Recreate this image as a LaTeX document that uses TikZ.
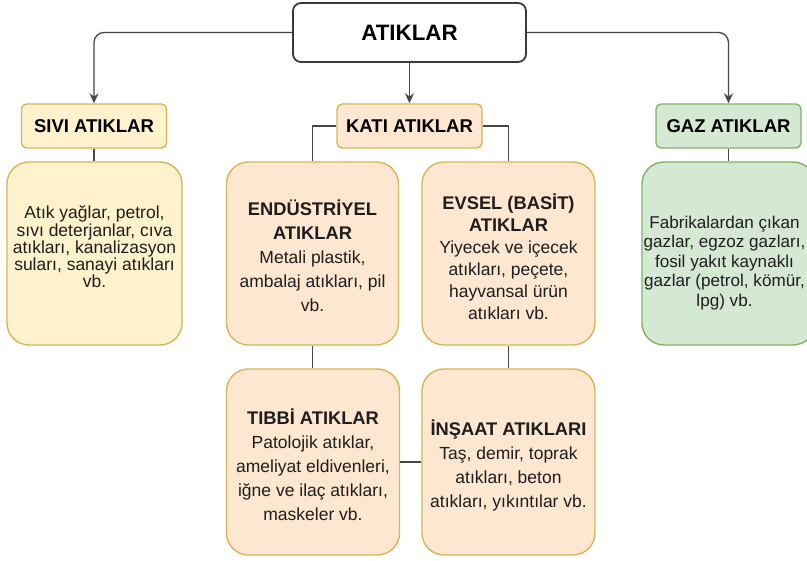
\documentclass[tikz,border=0pt]{standalone}
\usepackage{fontspec}
\setmainfont{Liberation Sans}
\usetikzlibrary{arrows.meta}
\definecolor{ylfill}{HTML}{FFF2CC}
\definecolor{ylline}{HTML}{D6B656}
\definecolor{orfill}{HTML}{FDE7D0}
\definecolor{grfill}{HTML}{D5E8D4}
\definecolor{grline}{HTML}{82B366}
\definecolor{conn}{HTML}{474747}
\definecolor{rootline}{HTML}{3A3A3A}
\definecolor{txt}{HTML}{1E1E1E}
\begin{document}
\begin{tikzpicture}[x=1pt,y=-1pt,
  box/.style={rectangle, inner sep=0pt, line width=1.4pt},
  head/.style={box, rounded corners=5pt, minimum width=145pt, minimum height=44pt,
    font=\bfseries\fontsize{18.5}{20}\selectfont, text=black},
  bigbox/.style={box, rounded corners=22pt, minimum width=173pt},
  body/.style={align=center, text=txt, inner sep=0pt},
  link/.style={draw=conn, line width=1.3pt},
  arr/.style={link, -{Stealth[length=10pt,width=9pt]}, rounded corners=10pt}]
\clip (0,0) rectangle (807,561);
\useasboundingbox (0,0) rectangle (807,561);
\fill[white] (0,0) rectangle (807,561);

% top level
\node[box, draw=rootline, line width=1.8pt, rounded corners=8pt, minimum width=233pt,
  minimum height=59pt, fill=white, font=\bfseries\fontsize{22.3}{24}\selectfont] (root) at (409.5,32.5) {ATIKLAR};
\node[head, fill=ylfill, draw=ylline] (sivi) at (94,126) {SIVI ATIKLAR};
\node[head, fill=orfill, draw=ylline] (kati) at (409.5,126) {KATI ATIKLAR};
\node[head, fill=grfill, draw=grline] (gaz) at (728.5,126) {GAZ ATIKLAR};

% big boxes
\node[bigbox, fill=ylfill, draw=ylline, minimum width=175pt, minimum height=183pt] (sivibox) at (94.5,253.5) {};
\node[bigbox, fill=orfill, draw=ylline, minimum width=172pt, minimum height=183pt] (endbox) at (312.5,253.5) {};
\node[bigbox, fill=orfill, draw=ylline, minimum width=173pt, minimum height=183pt] (evsbox) at (508.5,253.5) {};
\node[bigbox, fill=grfill, draw=grline, minimum width=173pt, minimum height=183pt] (gazbox) at (728.5,253.5) {};
\node[bigbox, fill=orfill, draw=ylline, minimum width=173pt, minimum height=186pt] (tibbox) at (313,462) {};
\node[bigbox, fill=orfill, draw=ylline, minimum width=173pt, minimum height=186pt] (insbox) at (508.5,462) {};

% texts
\node[body, font=\fontsize{17.5}{15.5}\selectfont] (sivitxt) at (94.5,247)
  {Atık yağlar, petrol,\\ sıvı deterjanlar, cıva\\ atıkları, kanalizasyon\\ suları, sanayi atıkları\\ vb.};
\node[body, font=\fontsize{17.5}{24}\selectfont] (endtxt) at (312.5,256)
  {{\fontsize{18.3}{24}\selectfont\bfseries ENDÜSTRİYEL}\\ {\fontsize{18.3}{24}\selectfont\bfseries ATIKLAR}\\ Metali plastik,\\ ambalaj atıkları, pil\\ vb.};
\node[body, font=\fontsize{17.5}{22}\selectfont] (evstxt) at (508.5,257)
  {{\fontsize{18.3}{22}\selectfont\bfseries EVSEL (BASİT)}\\ {\fontsize{18.3}{22}\selectfont\bfseries ATIKLAR}\\ Yiyecek ve içecek\\ atıkları, peçete,\\ hayvansal ürün\\ atıkları vb.};
\node[body, font=\fontsize{17.1}{19.5}\selectfont] (gaztxt) at (724.5,263)
  {Fabrikalardan çıkan\\ gazlar, egzoz gazları,\\ fosil yakıt kaynaklı\\ gazlar (petrol, kömür,\\ lpg) vb.};
\node[body, font=\fontsize{17.5}{24}\selectfont] (tibtxt) at (313,465)
  {{\fontsize{18.3}{24}\selectfont\bfseries TIBBİ ATIKLAR}\\ Patolojik atıklar,\\ ameliyat eldivenleri,\\ iğne ve ilaç atıkları,\\ maskeler vb.};
\node[body, font=\fontsize{17.5}{24}\selectfont] (instxt) at (508.5,465)
  {{\fontsize{18.3}{24}\selectfont\bfseries İNŞAAT ATIKLARI}\\ Taş, demir, toprak\\ atıkları, beton\\ atıkları, yıkıntılar vb.};

% connectors
\draw[arr] (root.west) -| (sivi.north);
\draw[arr] (root.east) -| (gaz.north);
\draw[link, -{Stealth[length=10pt,width=9pt]}] (root.south) -- (kati.north);
\draw[link] (sivi.south) -- (sivi.south |- sivibox.north);
\draw[link] (gaz.south) -- (gazbox.north);
\draw[link] (kati.west) -| (endbox.north);
\draw[link] (kati.east) -| (evsbox.north);
\draw[link] (endbox.south) -- (endbox.south |- tibbox.north);
\draw[link] (evsbox.south) -- (insbox.north);
\draw[link] (tibbox.east) -- (insbox.west);
\end{tikzpicture}
\end{document}
